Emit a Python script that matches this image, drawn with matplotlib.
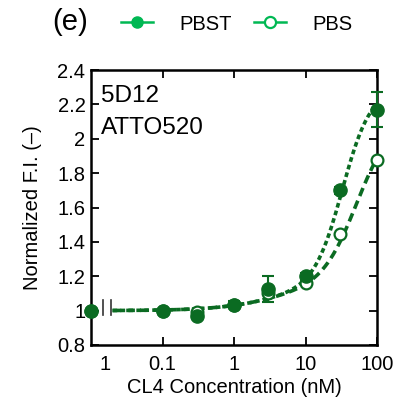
import numpy as np
import matplotlib
matplotlib.use("Agg")
import matplotlib.pyplot as plt
from matplotlib.lines import Line2D

plt.rcParams['font.family'] = ['Liberation Sans', 'DejaVu Sans']

# Data (x = 0 shown at left axis break position)
conc = [0.01, 0.1, 0.3, 1, 3, 10, 30, 100]
pbst = [1.00, 0.995, 0.97, 1.035, 1.125, 1.20, 1.70, 2.17]
pbst_err = [0.0, 0.01, 0.01, 0.02, 0.075, 0.02, 0.02, 0.10]
pbs = [1.00, 1.00, 0.99, 1.03, 1.10, 1.16, 1.445, 1.875]

# Two-site fit parameters (baseline, a1, k1, a2, k2, n)
fit_pbst = (1.0, 0.15, 4.0, 1.15, 33.0, 2.2)
fit_pbs = (1.0, 0.15, 4.0, 0.97, 52.0, 1.8)

yticks = [0.8, 1.0, 1.2, 1.4, 1.6, 1.8, 2.0, 2.2, 2.4]
ytick_labels = ['0.8', '1', '1.2', '1.4', '1.6', '1.8', '2', '2.2', '2.4']
xticks = [0.1, 1, 10, 100]
xtick_labels = ['0.1', '1', '10', '100']

dark = '#0b6b22'
bright = '#00b853'

fig = plt.figure(figsize=(3.96, 4.07), dpi=100)
ax = fig.add_axes([91/396, 1-345/407, (377-91)/396, (345-70)/407])

def model(x, p):
    b, a1, k1, a2, k2, n = p
    return b + a1 * x / (k1 + x) + a2 * x**n / (k2**n + x**n)

xf = np.logspace(np.log10(0.02), 2, 200)
ax.plot(xf, model(xf, fit_pbst), color=dark, lw=2.6, dashes=(1.3, 0.9), zorder=2)
ax.plot(xf, model(xf, fit_pbs), color=dark, lw=2.6, dashes=(2.4, 1.4), zorder=2)

ax.errorbar(conc, pbst, yerr=pbst_err, fmt='none', ecolor=dark, elinewidth=1.5,
            capsize=4, capthick=1.5, zorder=3, clip_on=False)
ax.plot(conc, pbs, 'o', ms=8.5, mfc='white', mec=dark, mew=1.6, zorder=4, clip_on=False, ls='none')
ax.plot(conc, pbst, 'o', ms=9.5, color=dark, zorder=5, clip_on=False, ls='none')

# axis break marks
for xb in [0.0147, 0.019]:
    ax.plot([xb, xb], [0.975, 1.062], color='#333333', lw=1.2, zorder=3)

ax.set_xscale('log')
ax.set_xlim(0.01, 100)
ax.set_ylim(0.8, 2.4)
ax.set_xticks(xticks, labels=xtick_labels)
ax.set_xticks([0.0158], labels=['1'], minor=True)
ax.set_yticks(yticks, labels=ytick_labels)
ax.tick_params(which='major', direction='in', length=6, width=1.3, top=True, right=True,
               labelsize=14.5, pad=7)
ax.tick_params(which='minor', direction='in', length=0, labelsize=14.5, pad=7)
ax.tick_params(axis='y', which='major', pad=4)
for s in ax.spines.values():
    s.set_linewidth(1.8)

ax.set_xlabel('CL4 Concentration (nM)', fontsize=14.5, labelpad=3)
ax.set_ylabel('Normalized F.I. (–)', fontsize=14.5, labelpad=11)

ax.text(0.035, 0.905, '5D12', transform=ax.transAxes, fontsize=17.5, va='center', ha='left')
ax.text(0.035, 0.79, 'ATTO520', transform=ax.transAxes, fontsize=17.5, va='center', ha='left')

fig.text(70/396, 1-22/407, '(e)', fontsize=21, ha='center', va='center')
h1 = Line2D([], [], color=bright, lw=1.8, marker='o', ms=8, mfc=bright, mec=bright)
h2 = Line2D([], [], color=bright, lw=1.8, marker='o', ms=8, mfc='white', mec=bright, mew=1.6)
fig.legend([h1, h2], ['PBST', 'PBS'], loc='center left', bbox_to_anchor=(121/396, 1-24/407),
           ncol=2, frameon=False, fontsize=14.5, handlelength=1.6, handletextpad=1.3,
           columnspacing=1.1, borderaxespad=0, borderpad=0)

fig.savefig('out.png', dpi=100)
